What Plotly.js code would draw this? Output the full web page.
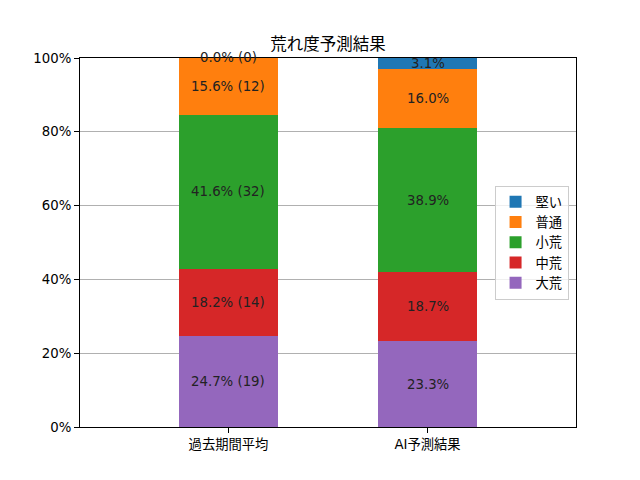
<!DOCTYPE html>
<html><head><meta charset="utf-8">
<script src="https://cdn.plot.ly/plotly-3.0.1.min.js"></script>
<style>html,body{margin:0;padding:0;background:#fff}#c{width:640px;height:480px}</style>
</head><body><div id="c"></div>
<script>
const categories = ["過去期間平均", "AI予測結果"];
const seriesNames = ["大荒", "中荒", "小荒", "普通", "堅い"];
const daiare = [24.7, 23.3];
const chuare = [18.2, 18.7];
const shoare = [41.6, 38.9];
const futsu = [15.6, 16.0];
const katai = [0.0, 3.1];
const pastCounts = [19, 14, 32, 12, 0];
const colors = ["#9467bd", "#d62728", "#2ca02c", "#ff7f0e", "#1f77b4"];
const yTickVals = [0, 20, 40, 60, 80, 100];
const yTickText = ["0%", "20%", "40%", "60%", "80%", "100%"];
const yRange = [0, 100];

const series = [daiare, chuare, shoare, futsu, katai];
const FONT = "DejaVu Sans, Noto Sans CJK JP, sans-serif";
const FS = 13.3;

const traces = [];
series.forEach((vals, i) => {
  traces.push({
    type: "bar", x: categories, y: vals, name: seriesNames[i],
    marker: {color: colors[i], line: {width: 0}}, width: 0.5,
    hoverinfo: "skip"
  });
});
// labels at segment centres (y in axis-domain fraction so edge labels are not hidden)
const annotations = [];
const base = [0, 0];
series.forEach((vals, i) => {
  vals.forEach((v, j) => {
    const mid = base[j] + v / 2;
    annotations.push({
      x: categories[j], xref: "x",
      y: (mid - yRange[0]) / (yRange[1] - yRange[0]), yref: "y domain",
      text: j === 0 ? v.toFixed(1) + "% (" + pastCounts[i] + ")" : v.toFixed(1) + "%",
      showarrow: false, xanchor: "center", yanchor: "middle",
      font: {family: FONT, size: FS, color: "#222"}
    });
    base[j] += v;
  });
});

const layout = {
  width: 640, height: 480,
  margin: {l: 80, r: 64, t: 58, b: 53},
  paper_bgcolor: "#fff", plot_bgcolor: "#fff",
  barmode: "stack", bargap: 0.5,
  font: {family: FONT, size: FS, color: "#000"},
  annotations: annotations,
  title: {text: "荒れ度予測結果", font: {family: FONT, size: 16.5, color: "#000"},
    x: 0.5125, xanchor: "center", y: 1 - 44/480, yanchor: "middle"},
  xaxis: {type: "category", range: [-0.746, 1.746], showgrid: false,
    showline: true, linecolor: "#000", linewidth: 1, mirror: true,
    ticks: "outside", ticklen: 5, tickcolor: "#000",
    tickfont: {family: FONT, size: FS, color: "#000"}, fixedrange: true},
  yaxis: {range: yRange, tickvals: yTickVals, ticktext: yTickText,
    showgrid: true, gridcolor: "#b0b0b0", gridwidth: 1, zeroline: false,
    showline: true, linecolor: "#000", linewidth: 1, mirror: true,
    ticks: "outside", ticklen: 5, tickcolor: "#000",
    tickfont: {family: FONT, size: FS, color: "#000"}, fixedrange: true},
  legend: {x: 0.985, xanchor: "right", y: 0.5, yanchor: "middle",
    bgcolor: "rgba(255,255,255,0.8)", bordercolor: "#ccc", borderwidth: 1,
    font: {family: FONT, size: FS, color: "#000"}, traceorder: "reversed",
    itemwidth: 30, tracegroupgap: 0},
  showlegend: true
};
Plotly.newPlot("c", traces, layout, {staticPlot: true, displayModeBar: false});
</script></body></html>
